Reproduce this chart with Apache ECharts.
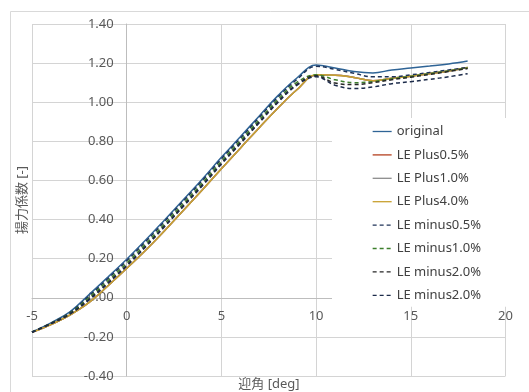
<!DOCTYPE html>
<html>
<head>
<meta charset="utf-8">
<script src="https://cdn.jsdelivr.net/npm/echarts@6/dist/echarts.min.js"></script>
<style>
  html, body { margin: 0; padding: 0; background: #fff; }
  #chart { width: 529px; height: 392px; }
</style>
</head>
<body>
<div id="chart"></div>
<script>
// Angle of attack [deg]
const aoa = [-5, -4, -3, -2, -1, 0, 1, 2, 3, 4, 5, 6, 7, 8, 9, 10, 11, 12, 13, 14, 15, 16, 17, 18];

// Lift coefficient for each leading-edge variant
const original   = [-0.175, -0.128, -0.072, 0.015, 0.105, 0.197, 0.295, 0.398, 0.503, 0.608, 0.718, 0.823, 0.930, 1.035, 1.125, 1.190, 1.175, 1.157, 1.150, 1.165, 1.175, 1.185, 1.196, 1.211];
const lePlus05   = [-0.177, -0.137, -0.088, -0.025, 0.060, 0.150, 0.243, 0.343, 0.448, 0.553, 0.660, 0.765, 0.870, 0.972, 1.065, 1.138, 1.138, 1.127, 1.110, 1.123, 1.133, 1.146, 1.160, 1.177];
const lePlus10   = [-0.177, -0.137, -0.088, -0.025, 0.060, 0.150, 0.243, 0.343, 0.448, 0.553, 0.660, 0.765, 0.870, 0.972, 1.065, 1.138, 1.138, 1.127, 1.110, 1.123, 1.133, 1.146, 1.160, 1.177];
const lePlus40   = [-0.177, -0.137, -0.088, -0.025, 0.060, 0.150, 0.243, 0.343, 0.448, 0.553, 0.660, 0.765, 0.870, 0.972, 1.065, 1.140, 1.138, 1.127, 1.110, 1.123, 1.133, 1.146, 1.160, 1.177];
const leMinus05  = [-0.175, -0.130, -0.076, 0.008, 0.097, 0.189, 0.287, 0.390, 0.495, 0.600, 0.710, 0.815, 0.922, 1.027, 1.117, 1.184, 1.168, 1.148, 1.130, 1.130, 1.140, 1.152, 1.165, 1.178];
const leMinus10  = [-0.175, -0.131, -0.080, 0.000, 0.087, 0.177, 0.275, 0.378, 0.483, 0.588, 0.698, 0.803, 0.910, 1.015, 1.103, 1.140, 1.115, 1.100, 1.105, 1.120, 1.132, 1.146, 1.160, 1.175];
const leMinus20a = [-0.176, -0.132, -0.082, -0.008, 0.077, 0.167, 0.265, 0.368, 0.473, 0.578, 0.688, 0.793, 0.900, 1.005, 1.093, 1.135, 1.098, 1.090, 1.100, 1.115, 1.128, 1.142, 1.157, 1.172];
const leMinus20b = [-0.176, -0.133, -0.084, -0.012, 0.072, 0.162, 0.260, 0.363, 0.468, 0.573, 0.683, 0.788, 0.895, 1.000, 1.088, 1.130, 1.087, 1.070, 1.078, 1.095, 1.105, 1.117, 1.130, 1.146];

// Axis ranges and ticks
const xTicks = { min: -5, max: 20, step: 5 };
const yTicks = { min: -0.4, max: 1.4, step: 0.2 };

const seriesDefs = [
  { name: 'original',      values: original,   color: '#2f6496', dash: 'solid' },
  { name: 'LE Plus0.5%',   values: lePlus05,   color: '#b5401f', dash: 'solid' },
  { name: 'LE Plus1.0%',   values: lePlus10,   color: '#8c8c8c', dash: 'solid' },
  { name: 'LE Plus4.0%',   values: lePlus40,   color: '#c9a130', dash: 'solid' },
  { name: 'LE minus0.5%',  values: leMinus05,  color: '#1f3358', dash: [4, 3] },
  { name: 'LE minus1.0%',  values: leMinus10,  color: '#3c7f2c', dash: [4, 3] },
  { name: 'LE minus2.0%',  values: leMinus20a, color: '#262626', dash: [4, 3] },
  { name: 'LE minus2.0% ', values: leMinus20b, color: '#1c2b4a', dash: [4, 3] }
];

const font = '"Noto Sans", "Noto Sans CJK JP", sans-serif';
const textColor = '#595959';

// Plot rectangle
const plot = { left: 32, right: 23.5, top: 24, bottom: 16 };
const plotW = 529 - plot.left - plot.right;
const plotH = 392 - plot.top - plot.bottom;
// The axes cross at the origin: shift each axis from the plot edge to zero
const xAxisShift = -plotH * (0 - yTicks.min) / (yTicks.max - yTicks.min);
const yAxisShift = -plotW * (0 - xTicks.min) / (xTicks.max - xTicks.min);

const chart = echarts.init(document.getElementById('chart'), null, { renderer: 'canvas' });

chart.setOption({
  animation: false,
  backgroundColor: '#ffffff',
  grid: { left: plot.left, right: plot.right, top: plot.top, bottom: plot.bottom, containLabel: false },
  xAxis: {
    type: 'value', position: 'bottom', offset: xAxisShift,
    min: xTicks.min, max: xTicks.max, interval: xTicks.step,
    axisLine: { onZero: false, lineStyle: { color: '#bdbdbd', width: 1 } },
    axisTick: { show: false },
    axisLabel: { color: textColor, fontSize: 13, fontFamily: font, margin: 12 },
    splitLine: { show: true, lineStyle: { color: '#d4d4d4', width: 1 } }
  },
  yAxis: {
    type: 'value', position: 'left', offset: yAxisShift,
    min: yTicks.min, max: yTicks.max, interval: yTicks.step,
    axisLine: { show: true, onZero: false, lineStyle: { color: '#bdbdbd', width: 1 } },
    axisTick: { show: false },
    axisLabel: {
      color: textColor, fontSize: 13, fontFamily: font, margin: 13,
      formatter: v => v.toFixed(2)
    },
    splitLine: { show: true, lineStyle: { color: '#d4d4d4', width: 1 } }
  },
  legend: {
    orient: 'vertical',
    left: 332, top: 118,
    padding: [7, 40, 5, 40],
    backgroundColor: '#ffffff',
    itemWidth: 19, itemHeight: 14, itemGap: 10.4,
    itemStyle: { opacity: 0 },
    lineStyle: { width: 1.3 },
    textStyle: { color: '#404040', fontSize: 13, fontFamily: font },
    data: seriesDefs.map(s => s.name)
  },
  graphic: [
    {
      type: 'rect', silent: true, z: -1,
      shape: { x: 10.5, y: 11.5, width: 540, height: 400 },
      style: { fill: 'none', stroke: '#d9d9d9', lineWidth: 1 }
    },
    {
      type: 'text', x: 22, y: 200, rotation: Math.PI / 2,
      style: {
        text: '揚力係数 [-]', fill: textColor, fontSize: 13, fontFamily: font,
        align: 'center', verticalAlign: 'middle'
      }
    },
    {
      type: 'text', x: 269, y: 384,
      style: {
        text: '迎角 [deg]', fill: textColor, fontSize: 13, fontFamily: font,
        align: 'center', verticalAlign: 'middle'
      }
    }
  ],
  series: seriesDefs.map(s => ({
    name: s.name,
    type: 'line',
    smooth: 0.4,
    symbol: 'none',
    data: aoa.map((a, i) => [a, s.values[i]]),
    itemStyle: { color: s.color },
    lineStyle: { color: s.color, width: 1.5, type: s.dash }
  }))
});
</script>
</body>
</html>
